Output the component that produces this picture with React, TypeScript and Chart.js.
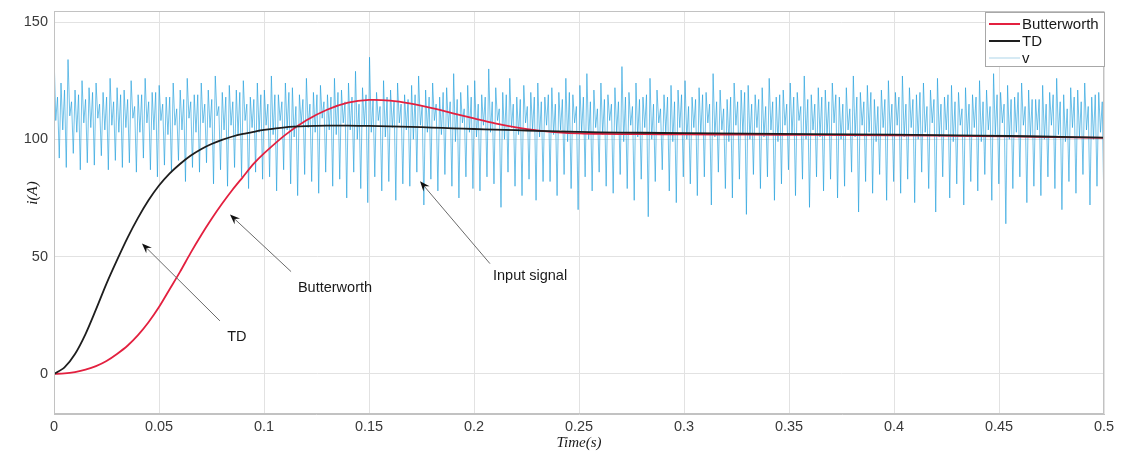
import { useEffect, useRef } from "react";
import { Chart, registerables } from "chart.js";

Chart.register(...registerables);

// ---------- data ----------
const xTickValues = [0, 0.05, 0.1, 0.15, 0.2, 0.25, 0.3, 0.35, 0.4, 0.45, 0.5];
const xTickLabels = ["0", "0.05", "0.1", "0.15", "0.2", "0.25", "0.3", "0.35", "0.4", "0.45", "0.5"];
const yTickValues = [0, 50, 100, 150];
const yTickLabels = ["0", "50", "100", "150"];

const seriesNames = ["Butterworth", "TD", "v"];

const curveTime = [
  0, 0.005, 0.01, 0.015, 0.02, 0.025, 0.03, 0.035, 0.04, 0.045, 0.05, 0.055, 0.06, 0.065, 0.07,
  0.075, 0.08, 0.085, 0.09, 0.095, 0.1, 0.11, 0.12, 0.13, 0.14, 0.15, 0.16, 0.17, 0.18, 0.19,
  0.2, 0.21, 0.22, 0.23, 0.24, 0.25, 0.26, 0.28, 0.3, 0.33, 0.36, 0.4, 0.44, 0.47, 0.5,
];
const tdValues = [
  0, 2.8, 8.5, 17, 27.5, 38.5, 48.5, 58, 66.5, 74, 80.3, 85.4, 89.5, 93, 95.8,
  98, 99.8, 101.2, 102.3, 103.2, 104, 105.1, 105.6, 105.8, 105.8, 105.7, 105.5, 105.3, 105.0, 104.7,
  104.4, 104.1, 103.9, 103.6, 103.4, 103.2, 103.0, 102.8, 102.6, 102.4, 102.2, 102.0, 101.6, 101.2, 100.7,
];
const butterworthValues = [
  0, 0.2, 0.8, 1.8, 3.3, 5.5, 8.5, 12, 16.5, 22, 28.5, 36, 43.5, 51.5, 59,
  66, 72.5, 78.5, 84, 89.5, 94, 101.8, 108, 112.6, 115.6, 116.8, 116.5, 115.2, 113.3, 111.1,
  108.9, 106.8, 105.1, 103.8, 103.0, 102.5, 102.3, 102.2, 102.1, 102.0, 101.9, 101.7, 101.4, 101.0, 100.6,
];

// input signal v: each cycle = peak, dip, bump, trough (0 .. 0.5 s)
const noisePeaks = [
  137, 124, 134, 121, 125, 122, 124, 120, 126, 122,
  121, 125, 119, 126, 120, 123, 118, 124, 121, 126,
  119, 124, 121, 127, 120, 123, 121, 125, 118, 124,
  121, 127, 119, 124, 122, 119, 126, 120, 123, 119,
  126, 121, 124, 129, 122, 135, 120, 125, 121, 124,
  119, 123, 127, 121, 124, 118, 122, 128, 120, 123,
  125, 119, 130, 122, 120, 126, 118, 123, 120, 124,
  118, 122, 120, 126, 119, 123, 128, 121, 124, 119,
  122, 131, 120, 124, 118, 126, 121, 119, 123, 121,
  125, 118, 122, 120, 128, 121, 117, 124, 121, 123,
  119, 122, 126, 118, 121, 124, 120, 127, 119, 122,
  121, 124, 118, 122, 127, 120, 123, 117, 121, 125,
  120, 127, 122, 119, 124, 121, 126, 118, 123, 120,
  122, 119, 125, 121, 128, 120, 123, 118, 124, 121,
  117, 123, 120, 126, 119, 122, 121, 124, 118, 120,
];
const noiseDips = [
  108, 104, 110, 103, 107, 105, 109, 104, 106, 103,
  105, 109, 103, 107, 104, 108, 102, 106, 104, 109,
  103, 107, 105, 110, 104, 106, 102, 108, 105, 103,
  106, 102, 108, 104, 101, 107, 105, 103, 109, 104,
  102, 107, 104, 100, 106, 103, 108, 101, 105, 107,
  104, 100, 106, 103, 108, 102, 105, 99, 107, 103,
  101, 106, 103, 108, 100, 105, 102, 107, 104, 101,
  106, 102, 104, 99, 107, 103, 100, 105, 102, 108,
  103, 99, 106, 101, 105, 100, 107, 103, 99, 105,
  100, 105, 102, 107, 101, 104, 99, 106, 102, 100,
  105, 101, 104, 99, 106, 102, 108, 100, 104, 101,
  102, 107, 100, 104, 101, 106, 103, 99, 105, 102,
  106, 101, 105, 100, 103, 107, 101, 104, 99, 106,
  101, 105, 99, 104, 102, 107, 100, 103, 106, 101,
  104, 100, 106, 102, 99, 105, 101, 104, 100, 103,
];
const noiseBumps = [
  118, 121, 116, 119, 117, 120, 115, 118, 116, 119,
  117, 114, 119, 116, 120, 115, 118, 113, 117, 116,
  119, 115, 117, 114, 118, 116, 120, 115, 117, 119,
  115, 119, 116, 120, 114, 117, 115, 119, 116, 118,
  120, 116, 118, 115, 119, 117, 114, 118, 116, 115,
  117, 119, 114, 118, 115, 120, 116, 117, 113, 118,
  115, 118, 116, 113, 119, 115, 117, 114, 118, 116,
  119, 115, 117, 120, 114, 118, 116, 113, 117, 115,
  116, 118, 114, 117, 119, 115, 113, 118, 116, 119,
  114, 117, 119, 115, 116, 113, 118, 116, 120, 115,
  117, 114, 116, 119, 115, 118, 114, 117, 115, 118,
  116, 119, 115, 113, 118, 116, 120, 114, 117, 115,
  118, 115, 117, 120, 114, 117, 115, 119, 116, 113,
  115, 118, 116, 114, 119, 115, 117, 120, 114, 117,
  117, 115, 119, 116, 113, 118, 116, 114, 119, 116,
];
const noiseTroughs = [
  92, 88, 94, 87, 90, 89, 93, 87, 91, 88,
  90, 86, 92, 87, 84, 89, 86, 91, 82, 88,
  86, 90, 81, 87, 80, 88, 84, 79, 86, 83,
  84, 78, 87, 81, 76, 85, 82, 77, 86, 80,
  83, 75, 86, 79, 73, 84, 78, 82, 74, 81,
  80, 86, 72, 83, 78, 85, 80, 75, 84, 79,
  78, 84, 81, 71, 86, 80, 76, 83, 74, 82,
  82, 76, 85, 79, 70, 84, 78, 86, 80, 77,
  85, 79, 74, 83, 67, 82, 87, 78, 73, 84,
  81, 76, 84, 72, 86, 79, 75, 83, 68, 85,
  79, 84, 74, 81, 87, 76, 83, 71, 84, 78,
  83, 75, 80, 86, 69, 82, 77, 85, 74, 82,
  77, 83, 73, 86, 79, 69, 84, 75, 81, 72,
  82, 78, 85, 74, 81, 64, 79, 84, 73, 80,
  76, 84, 79, 70, 82, 77, 85, 72, 80, 69,
];

const annotations = [
  { text: "TD", tip: [0.0419, 55.6], tail: [0.079, 22.6], label: [0.0871, 15.8] },
  { text: "Butterworth", tip: [0.0838, 67.9], tail: [0.1129, 43.6], label: [0.1338, 36.8] },
  { text: "Input signal", tip: [0.1743, 82.1], tail: [0.2076, 47], label: [0.2267, 41.9] },
];

const colors = { butterworth: "#e3203f", td: "#1e1e1e", v: "rgba(28,156,220,0.62)", vLegend: "#c9e3f1" };

// ---------- plugin ----------
const decorPlugin = {
  id: "decor",
  afterDraw(chart: any) {
    const { ctx, chartArea: a, scales } = chart;
    const x = scales.x;
    const y = scales.y;
    ctx.save();
    // frame
    ctx.strokeStyle = "#c2c2c2";
    ctx.lineWidth = 1;
    ctx.strokeRect(Math.round(a.left) + 0.5, Math.round(a.top) + 0.5, Math.round(a.right - a.left) - 1, Math.round(a.bottom - a.top) - 1);

    // annotations
    ctx.font = "14.5px 'Liberation Sans', Arial, sans-serif";
    ctx.textAlign = "center";
    ctx.textBaseline = "middle";
    for (const an of annotations) {
      const tx = x.getPixelForValue(an.tip[0]);
      const ty = y.getPixelForValue(an.tip[1]);
      const sx = x.getPixelForValue(an.tail[0]);
      const sy = y.getPixelForValue(an.tail[1]);
      const ang = Math.atan2(ty - sy, tx - sx);
      const L = 10;
      const W = 4;
      ctx.strokeStyle = "#6a6a6a";
      ctx.lineWidth = 1;
      ctx.beginPath();
      ctx.moveTo(sx, sy);
      ctx.lineTo(tx - Math.cos(ang) * 6, ty - Math.sin(ang) * 6);
      ctx.stroke();
      ctx.fillStyle = "#111";
      ctx.beginPath();
      ctx.moveTo(tx, ty);
      ctx.lineTo(tx - Math.cos(ang) * L - Math.sin(ang) * W, ty - Math.sin(ang) * L + Math.cos(ang) * W);
      ctx.lineTo(tx - Math.cos(ang) * (L * 0.65), ty - Math.sin(ang) * (L * 0.65));
      ctx.lineTo(tx - Math.cos(ang) * L + Math.sin(ang) * W, ty - Math.sin(ang) * L - Math.cos(ang) * W);
      ctx.closePath();
      ctx.fill();
      ctx.fillStyle = "#1a1a1a";
      ctx.fillText(an.text, x.getPixelForValue(an.label[0]), y.getPixelForValue(an.label[1]));
    }

    // y title
    ctx.save();
    ctx.translate(33, 193);
    ctx.rotate(-Math.PI / 2);
    ctx.font = "italic 15px 'Liberation Serif', 'Times New Roman', serif";
    ctx.fillStyle = "#1a1a1a";
    ctx.textAlign = "center";
    ctx.textBaseline = "middle";
    ctx.fillText("i(A)", 0, 0);
    ctx.restore();

    // legend
    const bx = 985, by = 12, bw = 120, bh = 55;
    ctx.fillStyle = "#ffffff";
    ctx.fillRect(bx, by, bw, bh);
    ctx.strokeStyle = "#a8a8a8";
    ctx.lineWidth = 1;
    ctx.strokeRect(bx + 0.5, by + 0.5, bw - 1, bh - 1);
    const legendColors = [colors.butterworth, colors.td, colors.vLegend];
    const rowsY = [24, 41, 58];
    ctx.font = "15px 'Liberation Sans', Arial, sans-serif";
    ctx.textAlign = "left";
    ctx.textBaseline = "middle";
    seriesNames.forEach((name, i) => {
      ctx.strokeStyle = legendColors[i];
      ctx.lineWidth = i === 2 ? 1.5 : 2;
      ctx.beginPath();
      ctx.moveTo(989, rowsY[i]);
      ctx.lineTo(1020, rowsY[i]);
      ctx.stroke();
      ctx.fillStyle = "#1a1a1a";
      ctx.fillText(name, 1022, rowsY[i] + 1);
    });
    ctx.restore();
  },
};

export default function App() {
  const ref = useRef<HTMLCanvasElement | null>(null);

  useEffect(() => {
    if (!ref.current) return;
    const cycles = noisePeaks.length;
    const seq: number[] = [];
    for (let c = 0; c < cycles; c++) {
      seq.push(noisePeaks[c], noiseDips[c], noiseBumps[c], noiseTroughs[c]);
    }
    const n = seq.length;
    const noisePoints = seq.map((v, k) => ({ x: (k * 0.5) / (n - 1), y: v }));
    const bwPoints = curveTime.map((t, i) => ({ x: t, y: butterworthValues[i] }));
    const tdPoints = curveTime.map((t, i) => ({ x: t, y: tdValues[i] }));

    const tickFont = { family: "'Liberation Sans', Arial, sans-serif", size: 14.5 };

    const chart = new Chart(ref.current, {
      type: "line",
      data: {
        datasets: [
          {
            label: seriesNames[0],
            data: bwPoints,
            borderColor: colors.butterworth,
            borderWidth: 1.8,
            pointRadius: 0,
            tension: 0.3,
            order: 1,
          },
          {
            label: seriesNames[1],
            data: tdPoints,
            borderColor: colors.td,
            borderWidth: 1.8,
            pointRadius: 0,
            tension: 0.3,
            order: 0,
          },
          {
            label: seriesNames[2],
            data: noisePoints,
            borderColor: colors.v,
            borderWidth: 1,
            pointRadius: 0,
            tension: 0,
            order: 2,
          },
        ],
      },
      options: {
        animation: false,
        responsive: false,
        devicePixelRatio: 1,
        layout: { padding: { left: 0, top: 11, right: 17, bottom: 0 } },
        plugins: {
          legend: { display: false },
          tooltip: { enabled: false },
        },
        scales: {
          x: {
            type: "linear",
            min: 0,
            max: 0.5,
            afterBuildTicks: (s: any) => {
              s.ticks = xTickValues.map((v) => ({ value: v }));
            },
            afterFit: (s: any) => {
              s.height = 41;
              s.paddingLeft = 0;
              s.paddingRight = 0;
            },
            ticks: {
              callback: (_v: any, i: number) => xTickLabels[i],
              color: "#3a3a3a",
              font: tickFont,
              padding: 4,
              maxRotation: 0,
              autoSkip: false,
            },
            grid: { color: "#e2e2e2", drawTicks: false },
            border: { color: "#c2c2c2" },
            title: {
              display: true,
              text: "Time(s)",
              color: "#1a1a1a",
              font: { family: "'Liberation Serif', 'Times New Roman', serif", style: "italic", size: 15 },
              padding: { top: 0, bottom: 3 },
            },
          },
          y: {
            type: "linear",
            min: -17.1,
            max: 154.7,
            afterBuildTicks: (s: any) => {
              s.ticks = yTickValues.map((v) => ({ value: v }));
            },
            afterFit: (s: any) => {
              s.width = 54;
              s.paddingTop = 0;
              s.paddingBottom = 0;
            },
            ticks: {
              callback: (_v: any, i: number) => yTickLabels[i],
              color: "#3a3a3a",
              font: tickFont,
              padding: 6,
              autoSkip: false,
            },
            grid: { color: "#e2e2e2", drawTicks: false },
            border: { color: "#c2c2c2" },
          },
        },
      } as any,
      plugins: [decorPlugin],
    });
    return () => chart.destroy();
  }, []);

  return (
    <div style={{ position: "absolute", left: 0, top: 0, width: 1121, height: 455, background: "#fff" }}>
      <canvas ref={ref} width={1121} height={455} style={{ display: "block" }} />
    </div>
  );
}
